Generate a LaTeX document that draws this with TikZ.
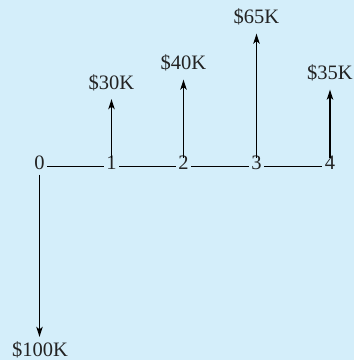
\documentclass[tikz,border=0pt]{standalone}
\usepackage{fontspec}
\setmainfont{Liberation Serif}
\usetikzlibrary{arrows.meta}
\definecolor{bgblue}{RGB}{212,238,250}
\definecolor{txtgray}{RGB}{35,35,35}
\begin{document}
\begin{tikzpicture}[x=1pt,y=-1pt,
  every node/.style={font=\fontsize{20.5}{24}\selectfont, text=txtgray},
  tick/.style={inner xsep=2.5pt, inner ysep=5pt, text height=0.68em, text depth=0pt, anchor=base},
  amount/.style={inner xsep=0pt, inner ysep=10pt, text height=0.7em, text depth=0pt, anchor=base},
  downamount/.style={inner xsep=0pt, inner ysep=12pt, text height=0.7em, text depth=0pt, anchor=base},
  flow/.style={line width=1.1pt, -{Stealth[length=10pt,width=6.5pt,inset=2.5pt]}},
  axis/.style={line width=1.1pt}]
\useasboundingbox (0,0) rectangle (354,360);
\fill[bgblue] (0,0) rectangle (354,360);
% time points
\node[tick] (t0) at (39.5,169.5) {0};
\node[tick] (t1) at (111.5,169.5) {1};
\node[tick] (t2) at (183.5,169.5) {2};
\node[tick] (t3) at (256.5,169.5) {3};
\node[tick] (t4) at (330,169.5) {4};
\draw[axis] (t0) -- (t1) -- (t2) -- (t3) -- (t4);
% amounts
\node[amount] (a1) at (111.5,89) {\$30K};
\node[amount] (a2) at (183.5,69.5) {\$40K};
\node[amount] (a3) at (256.5,23.5) {\$65K};
\node[amount] (a4) at (330,79.5) {\$35K};
\node[downamount] (a0) at (40,356) {\$100K};
\draw[flow] (t1.north) -- (a1.south);
\draw[flow] (t2.north) -- (a2.south);
\draw[flow] (t3.north) -- (a3.south);
\draw[flow] (t4.north) -- (a4.south);
\draw[flow] (t0.south) -- (a0.north -| t0.south);
\end{tikzpicture}
\end{document}
